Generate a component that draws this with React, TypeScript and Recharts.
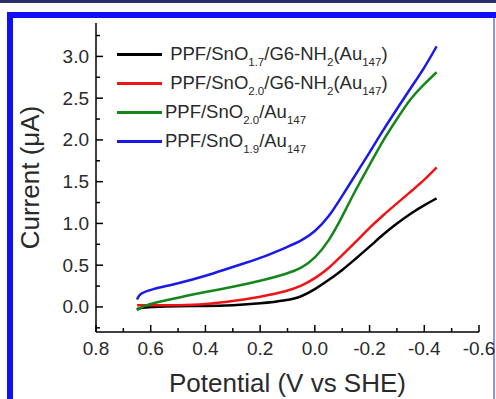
import React from "react";
import { LineChart, Line, XAxis, YAxis, Legend } from "recharts";

// potential (V vs SHE), scanned from 0.65 down to -0.45
const potential = [0.65, 0.64, 0.6, 0.5, 0.4, 0.3, 0.2, 0.1, 0.05, 0, -0.05, -0.1, -0.15, -0.2, -0.25, -0.3, -0.35, -0.4, -0.445];
const sno17G6 = [-0.03, -0.01, 0.0, 0.01, 0.01, 0.02, 0.04, 0.08, 0.12, 0.21, 0.32, 0.44, 0.58, 0.72, 0.87, 1.0, 1.12, 1.22, 1.3];
const sno20G6 = [0.02, 0.02, 0.02, 0.02, 0.03, 0.07, 0.12, 0.19, 0.25, 0.34, 0.46, 0.62, 0.78, 0.95, 1.1, 1.24, 1.38, 1.52, 1.67];
const sno20Au = [-0.04, -0.01, 0.04, 0.11, 0.18, 0.24, 0.31, 0.4, 0.46, 0.58, 0.78, 1.08, 1.41, 1.7, 2.0, 2.25, 2.5, 2.67, 2.81];
const sno19Au = [0.09, 0.16, 0.21, 0.28, 0.37, 0.48, 0.58, 0.72, 0.79, 0.9, 1.07, 1.33, 1.59, 1.85, 2.12, 2.37, 2.62, 2.86, 3.12];

const xTicks = [0.8, 0.7, 0.6, 0.5, 0.4, 0.3, 0.2, 0.1, 0, -0.1, -0.2, -0.3, -0.4, -0.5, -0.6];
const yTicks = [-0.25, 0, 0.25, 0.5, 0.75, 1, 1.25, 1.5, 1.75, 2, 2.25, 2.5, 2.75, 3, 3.25];

// legend text pieces: [text, isSubscript]
const legendLabels: Record<string, [string, boolean][]> = {
  a: [[" PPF/SnO", false], ["1.7", true], ["/G6-NH", false], ["2", true], ["(Au", false], ["147", true], [")", false]],
  b: [[" PPF/SnO", false], ["2.0", true], ["/G6-NH", false], ["2", true], ["(Au", false], ["147", true], [")", false]],
  c: [["PPF/SnO", false], ["2.0", true], ["/Au", false], ["147", true]],
  d: [["PPF/SnO", false], ["1.9", true], ["/Au", false], ["147", true]],
};

const data = potential.map((p, i) => ({
  p,
  a: sno17G6[i],
  b: sno20G6[i],
  c: sno20Au[i],
  d: sno19Au[i],
}));

const FONT = '"Liberation Sans", Arial, sans-serif';
const TXT = "#2a2a2a";

const isMajorX = (v: number) => Math.abs(v * 5 - Math.round(v * 5)) < 1e-6;
const isMajorY = (v: number) => Math.abs(v * 2 - Math.round(v * 2)) < 1e-6;

function BottomTick({ x, y, payload }: any) {
  const major = isMajorX(payload.value);
  return (
    <g>
      <line x1={x} x2={x} y1={y} y2={y - (major ? 7 : 4)} stroke="#000" strokeWidth={1.5} />
      {major && (
        <text x={x} y={y + 16} textAnchor="middle" dominantBaseline="central" fontSize={19} fill={TXT} fontFamily={FONT}>
          {payload.value.toFixed(1)}
        </text>
      )}
    </g>
  );
}

function TopTick({ x, y, payload }: any) {
  const major = isMajorX(payload.value);
  return <line x1={x} x2={x} y1={y} y2={y + (major ? 7 : 4)} stroke="#000" strokeWidth={1.5} />;
}

function LeftTick({ x, y, payload }: any) {
  const major = isMajorY(payload.value);
  return (
    <g>
      <line x1={x} x2={x + (major ? 7 : 4)} y1={y} y2={y} stroke="#000" strokeWidth={1.5} />
      {major && (
        <text x={x - 7} y={y} textAnchor="end" dominantBaseline="central" fontSize={19} fill={TXT} fontFamily={FONT}>
          {payload.value.toFixed(1)}
        </text>
      )}
    </g>
  );
}

function RightTick({ x, y, payload }: any) {
  const major = isMajorY(payload.value);
  return <line x1={x} x2={x - (major ? 7 : 4)} y1={y} y2={y} stroke="#000" strokeWidth={1.5} />;
}

function CustomLegend({ payload }: any) {
  return (
    <div style={{ fontFamily: FONT, color: TXT }}>
      {payload?.map((entry: any, i: number) => (
        <div key={i} style={{ display: "flex", alignItems: "center", height: 29 }}>
          <div style={{ width: 45, height: 2.5, background: entry.color, marginRight: 3 }} />
          <span style={{ fontSize: 18.5, whiteSpace: "pre", lineHeight: "29px" }}>
            {legendLabels[entry.dataKey].map(([t, sub], j) =>
              sub ? (
                <span key={j} style={{ fontSize: 11.5, position: "relative", top: 6 }}>{t}</span>
              ) : (
                <span key={j}>{t}</span>
              )
            )}
          </span>
        </div>
      ))}
    </div>
  );
}

export default function App() {
  return (
    <div style={{ position: "absolute", left: 0, top: 0, width: 496, height: 399, background: "#fff", overflow: "hidden" }}>
      <div style={{ position: "absolute", left: 0, top: 0, width: 496, height: 3, background: "#2b2f6b" }} />
      <div style={{ position: "absolute", left: 7, top: 12, width: 489, height: 6, background: "#1010f4" }} />
      <div style={{ position: "absolute", left: 7, top: 12, width: 6, height: 387, background: "#1010f4" }} />
      <div style={{ position: "absolute", left: 493, top: 18, width: 2, height: 381, background: "#9090ee" }} />
      <div style={{ position: "absolute", left: 0, top: 0 }}>
        <LineChart width={496} height={399} data={data} margin={{ top: 23, right: 17, left: 0, bottom: 0 }}>
          <XAxis
            xAxisId="b"
            dataKey="p"
            type="number"
            domain={[-0.6, 0.8]}
            reversed
            ticks={xTicks}
            interval={0}
            height={67}
            tickSize={0}
            tickMargin={0}
            tick={<BottomTick />}
            axisLine={{ stroke: "#000", strokeWidth: 1.5 }}
            allowDataOverflow
            label={(props: any) => {
              const vb = props.viewBox;
              return (
                <text x={vb.x + vb.width / 2} y={383} textAnchor="middle" dominantBaseline="central" fontSize={26} fill={TXT} fontFamily={FONT}>
                  Potential (V vs SHE)
                </text>
              );
            }}
          />
          <XAxis
            xAxisId="t"
            orientation="top"
            type="number"
            domain={[-0.6, 0.8]}
            reversed
            ticks={xTicks}
            interval={0}
            height={0}
            tickSize={0}
            tickMargin={0}
            tick={<TopTick />}
            axisLine={{ stroke: "#000", strokeWidth: 1.5 }}
            allowDataOverflow
          />
          <YAxis
            yAxisId="l"
            type="number"
            domain={[-0.3, 3.4]}
            ticks={yTicks}
            interval={0}
            width={96}
            tickSize={0}
            tickMargin={0}
            tick={<LeftTick />}
            axisLine={{ stroke: "#000", strokeWidth: 1.5 }}
            allowDataOverflow
            label={(props: any) => {
              const vb = props.viewBox;
              const cy = vb.y + vb.height / 2;
              return (
                <text x={30} y={cy} transform={`rotate(-90 30 ${cy})`} textAnchor="middle" dominantBaseline="central" fontSize={26} fill={TXT} fontFamily={FONT}>
                  Current (μA)
                </text>
              );
            }}
          />
          <YAxis
            yAxisId="r"
            orientation="right"
            type="number"
            domain={[-0.3, 3.4]}
            ticks={yTicks}
            interval={0}
            width={0}
            tickSize={0}
            tickMargin={0}
            tick={<RightTick />}
            axisLine={{ stroke: "#000", strokeWidth: 1.5 }}
            allowDataOverflow
          />
          <Legend
            content={<CustomLegend />}
            layout="vertical"
            align="center"
            verticalAlign="middle"
            wrapperStyle={{ top: 40, left: 117, width: 320 }}
          />
          <Line xAxisId="b" yAxisId="l" type="basis" dataKey="a" stroke="#000000" strokeWidth={2.5} dot={false} isAnimationActive={false} />
          <Line xAxisId="b" yAxisId="l" type="basis" dataKey="b" stroke="#f01414" strokeWidth={2.5} dot={false} isAnimationActive={false} />
          <Line xAxisId="b" yAxisId="l" type="basis" dataKey="c" stroke="#15861a" strokeWidth={2.5} dot={false} isAnimationActive={false} />
          <Line xAxisId="b" yAxisId="l" type="basis" dataKey="d" stroke="#1a1ae8" strokeWidth={2.5} dot={false} isAnimationActive={false} />
        </LineChart>
      </div>
    </div>
  );
}
